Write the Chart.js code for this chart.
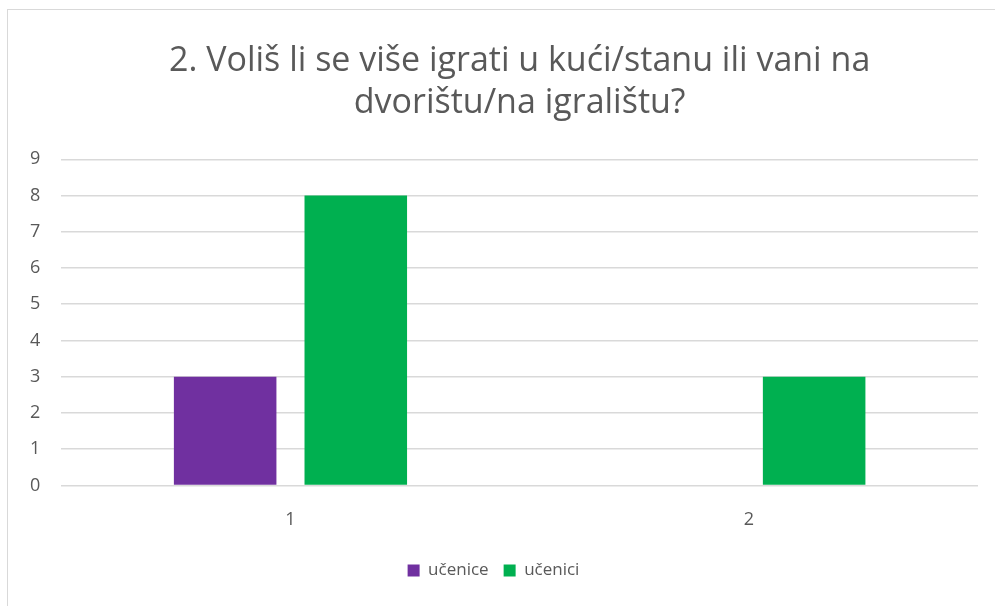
<!DOCTYPE html>
<html>
<head>
<meta charset="utf-8">
<script src="https://cdn.jsdelivr.net/npm/chart.js@4"></script>
<style>
  html, body { margin: 0; padding: 0; background: #fff; }
  #frame {
    position: absolute; left: 7px; top: 9px;
    width: 990px; height: 600px;
    border: 1px solid #d9d9d9; box-sizing: border-box;
  }
  #chart { display: block; }
</style>
</head>
<body>
<div id="frame"><canvas id="chart" width="988" height="598"></canvas></div>
<script>
const titleLines = ["2. Voliš li se više igrati u kući/stanu ili vani na", "dvorištu/na igralištu?"];
const categories = ["1", "2"];
const ucenice = [3, 0];
const ucenici = [8, 3];
const yTicks = [0, 1, 2, 3, 4, 5, 6, 7, 8, 9];

const textColor = "#595959";
const gridColor = "#d9d9d9";

document.addEventListener("DOMContentLoaded", function () {
  const ctx = document.getElementById("chart");

  new Chart(ctx, {
    type: "bar",
    data: {
      labels: categories,
      datasets: [
        {
          label: "učenice",
          data: ucenice,
          backgroundColor: "#7030a0",
          categoryPercentage: 0.57,
          barPercentage: 0.785,
        },
        {
          label: "učenici",
          data: ucenici,
          backgroundColor: "#00b050",
          categoryPercentage: 0.57,
          barPercentage: 0.785,
        },
      ],
    },
    options: {
      responsive: false,
      animation: false,
      layout: { padding: { left: 1, right: 18, top: 30, bottom: 19 } },
      plugins: {
        title: {
          display: true,
          fullSize: false, // centre over the plot area, like the original
          text: titleLines,
          color: textColor,
          font: { family: "'Open Sans', sans-serif", size: 34, weight: "normal", lineHeight: 1.24 },
          padding: { top: 0, bottom: 35 },
        },
        legend: {
          position: "bottom",
          labels: {
            color: textColor,
            font: { family: "'Open Sans', sans-serif", size: 17 },
            boxWidth: 12,
            boxHeight: 12,
            padding: 15,
          },
        },
        tooltip: { enabled: false },
      },
      scales: {
        y: {
          min: 0,
          max: 9,
          afterBuildTicks: function (axis) {
            axis.ticks = yTicks.map((v) => ({ value: v }));
          },
          grid: { color: gridColor, lineWidth: 1.5, drawTicks: false },
          border: { display: false },
          ticks: {
            color: textColor,
            font: { family: "'Open Sans', sans-serif", size: 18 },
            padding: 21,
          },
        },
        x: {
          grid: { display: false },
          border: { display: false },
          ticks: {
            color: textColor,
            font: { family: "'Open Sans', sans-serif", size: 18 },
            padding: 16,
          },
        },
      },
    },
  });
});
</script>
</body>
</html>
